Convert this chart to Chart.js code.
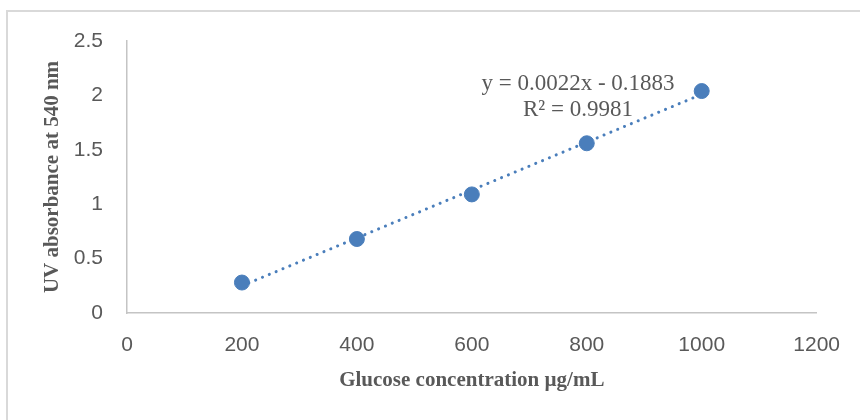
<!DOCTYPE html>
<html>
<head>
<meta charset="utf-8">
<script src="https://cdn.jsdelivr.net/npm/chart.js@4/dist/chart.umd.min.js"></script>
<style>
  html, body { margin: 0; padding: 0; background: #ffffff; }
  #wrap { position: relative; width: 860px; height: 420px; overflow: hidden; }
  #frame { position: absolute; left: 6px; top: 10px; width: 900px; height: 500px;
           border: 2px solid #d9d9d9; box-sizing: border-box; pointer-events: none; }
  canvas { position: absolute; left: 0; top: 0; }
</style>
</head>
<body>
<div id="wrap">
  <canvas id="c" width="860" height="420"></canvas>
  <div id="frame"></div>
</div>
<script>
// Data
const concentrations = [200, 400, 600, 800, 1000];
const absorbance = [0.28, 0.68, 1.09, 1.56, 2.04];
const trendX = [200, 1000];
const trendY = [0.25, 2.01];
const xTicks = [0, 200, 400, 600, 800, 1000, 1200];
const yTicks = [0, 0.5, 1, 1.5, 2, 2.5];
const xTickLabels = ['0', '200', '400', '600', '800', '1000', '1200'];
const yTickLabels = ['0', '0.5', '1', '1.5', '2', '2.5'];
const equationLines = ['y = 0.0022x - 0.1883', 'R\u00B2 = 0.9981'];
const xTitle = 'Glucose concentration \u00B5g/mL';
const yTitle = 'UV absorbance at 540 nm';

const blue = '#4a7ebb';
const grey = '#595959';
const axisGrey = '#c4c4c4';

const annotationPlugin = {
  id: 'equation',
  afterDatasetsDraw(chart) {
    const ctx = chart.ctx;
    const a = chart.chartArea;
    ctx.save();
    ctx.font = '23px "Liberation Serif", "Times New Roman", serif';
    ctx.fillStyle = grey;
    ctx.textAlign = 'center';
    ctx.textBaseline = 'alphabetic';
    const cx = a.left + 451;
    ctx.fillText(equationLines[0], cx, 90);
    ctx.fillText(equationLines[1], cx, 116);
    ctx.restore();
  }
};

new Chart(document.getElementById('c'), {
  type: 'scatter',
  data: {
    datasets: [
      {
        label: 'Trend',
        data: trendX.map((x, i) => ({ x: x, y: trendY[i] })),
        showLine: true,
        borderColor: blue,
        borderWidth: 3,
        borderDash: [0.1, 7.3],
        borderCapStyle: 'round',
        pointRadius: 0,
        fill: false,
        order: 2
      },
      {
        label: 'Absorbance',
        data: concentrations.map((x, i) => ({ x: x, y: absorbance[i] })),
        backgroundColor: blue,
        borderColor: blue,
        pointRadius: 7.5,
        pointHoverRadius: 7.5,
        order: 1
      }
    ]
  },
  options: {
    responsive: false,
    animation: false,
    layout: { padding: { left: 0, top: 41, right: 42, bottom: 0 } },
    plugins: { legend: { display: false }, tooltip: { enabled: false } },
    scales: {
      x: {
        type: 'linear',
        min: xTicks[0],
        max: xTicks[xTicks.length - 1],
        afterBuildTicks: s => { s.ticks = xTicks.map(v => ({ value: v })); },
        afterFit: s => { s.height = 107; },
        grid: { display: false, drawTicks: false },
        border: { display: true, color: axisGrey, width: 1.5 },
        ticks: {
          padding: 20,
          color: grey,
          font: { family: '"Liberation Sans", Arial, sans-serif', size: 21 },
          maxRotation: 0,
          callback: (v) => { const i = xTicks.indexOf(v); return i >= 0 ? xTickLabels[i] : ''; }
        },
        title: {
          display: true,
          text: xTitle,
          color: grey,
          font: { family: '"Liberation Serif", "Times New Roman", serif', size: 21, weight: 'bold' },
          padding: { top: 0, bottom: 27 }
        }
      },
      y: {
        type: 'linear',
        min: yTicks[0],
        max: yTicks[yTicks.length - 1],
        afterBuildTicks: s => { s.ticks = yTicks.map(v => ({ value: v })); },
        afterFit: s => { s.width = 127; },
        grid: { display: false, drawTicks: false },
        border: { display: true, color: axisGrey, width: 1.5 },
        ticks: {
          padding: 24,
          color: grey,
          font: { family: '"Liberation Sans", Arial, sans-serif', size: 21 },
          callback: (v) => { const i = yTicks.indexOf(v); return i >= 0 ? yTickLabels[i] : ''; }
        },
        title: {
          display: true,
          text: yTitle,
          color: grey,
          font: { family: '"Liberation Serif", "Times New Roman", serif', size: 21, weight: 'bold' },
          padding: { top: 40, bottom: 0 }
        }
      }
    }
  },
  plugins: [annotationPlugin]
});
</script>
</body>
</html>
